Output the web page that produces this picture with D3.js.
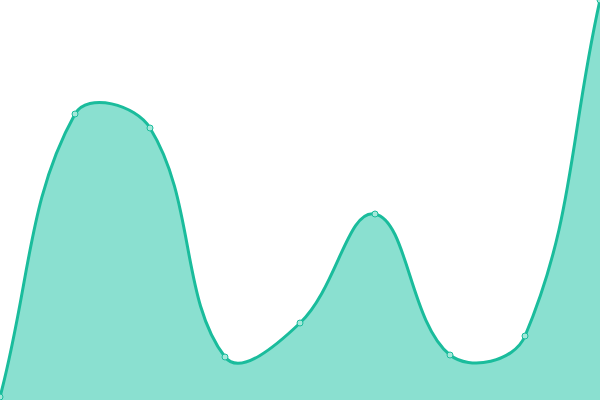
<!DOCTYPE html>
<html>
<head>
<meta charset="utf-8">
<script src="https://cdn.jsdelivr.net/npm/d3@7"></script>
<style>
  html, body { margin: 0; padding: 0; background: #fff; }
  svg { display: block; }
</style>
</head>
<body>
<script>
var categories = [0, 1, 2, 3, 4, 5, 6, 7, 8];
var values = [0.75, 71.5, 68, 10.75, 19.25, 46.5, 11.25, 16, 100];

var width = 600,
    height = 400;

var svg = d3.select("body").append("svg")
    .attr("width", width)
    .attr("height", height);

var x = d3.scaleLinear().domain([0, 8]).range([0, width]);
var y = d3.scaleLinear().domain([0, 100]).range([height, 0]);

var data = categories.map(function (c, i) { return { c: c, v: values[i] }; });

// distance weighted spline (tension 0.4), same shape as the reference's smoothing
function Spline(context) { this._context = context; }
Spline.prototype = {
    areaStart: function () { this._line = 0; },
    areaEnd: function () { this._line = NaN; },
    lineStart: function () { this._x = []; this._y = []; },
    point: function (px, py) { this._x.push(+px); this._y.push(+py); },
    lineEnd: function () {
        var xs = this._x, ys = this._y, n = xs.length, t = 0.4;
        if (n) {
            this._line ? this._context.lineTo(xs[0], ys[0]) : this._context.moveTo(xs[0], ys[0]);
            var cpIn = [], cpOut = [];
            for (var i = 0; i < n; i++) {
                var p = Math.max(i - 1, 0), q = Math.min(i + 1, n - 1);
                var d01 = Math.hypot(xs[i] - xs[p], ys[i] - ys[p]);
                var d12 = Math.hypot(xs[q] - xs[i], ys[q] - ys[i]);
                var s01 = d01 / (d01 + d12 || 1), s12 = d12 / (d01 + d12 || 1);
                var dx = xs[q] - xs[p], dy = ys[q] - ys[p];
                cpIn.push([xs[i] - t * s01 * dx, ys[i] - t * s01 * dy]);
                cpOut.push([xs[i] + t * s12 * dx, ys[i] + t * s12 * dy]);
            }
            for (var j = 1; j < n; j++) {
                this._context.bezierCurveTo(cpOut[j - 1][0], cpOut[j - 1][1], cpIn[j][0], cpIn[j][1], xs[j], ys[j]);
            }
        }
        if (this._line || (this._line !== 0 && n === 1)) this._context.closePath();
        this._line = 1 - this._line;
        this._x = this._y = null;
    }
};
var curve = function (context) { return new Spline(context); };

var area = d3.area()
    .x(function (d) { return x(d.c); })
    .y0(height)
    .y1(function (d) { return y(d.v); })
    .curve(curve);

var line = d3.line()
    .x(function (d) { return x(d.c); })
    .y(function (d) { return y(d.v); })
    .curve(curve);

svg.append("path")
    .datum(data)
    .attr("d", area)
    .attr("fill", "#8ae0d0");

svg.append("path")
    .datum(data)
    .attr("d", line)
    .attr("fill", "none")
    .attr("stroke", "#1abc9c")
    .attr("stroke-width", 3);

svg.selectAll(".pt")
    .data(data)
    .enter()
    .append("circle")
    .attr("class", "pt")
    .attr("cx", function (d) { return x(d.c); })
    .attr("cy", function (d) { return y(d.v); })
    .attr("r", 3)
    .attr("fill", "#a5e8da")
    .attr("stroke", "#1abc9c")
    .attr("stroke-width", 1);
</script>
</body>
</html>
